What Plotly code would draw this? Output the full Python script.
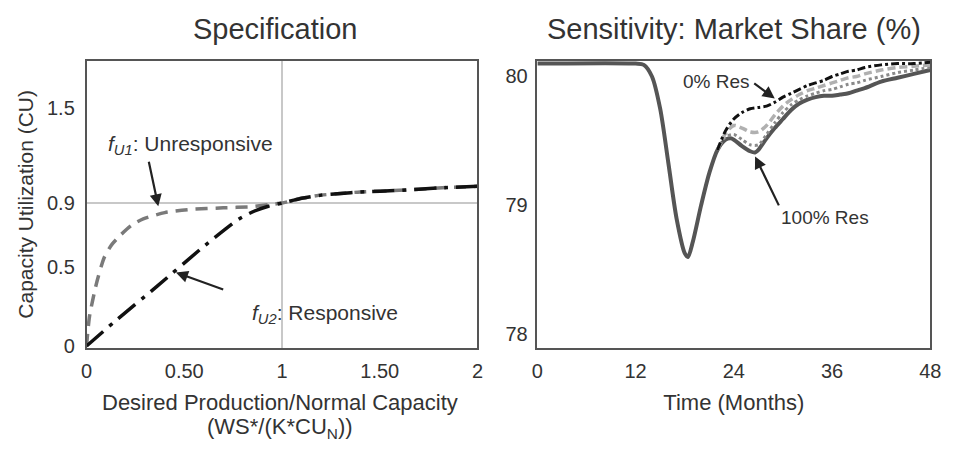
import plotly.graph_objects as go

# ---------------- Left panel data (Specification) ----------------
x_u1 = [0, 0.015, 0.05, 0.09, 0.13, 0.175, 0.23, 0.29, 0.4, 0.53, 0.7, 0.84, 0.93, 1.0, 1.05, 1.1, 1.2, 1.3, 1.4, 1.6, 1.8, 2.0]
y_u1 = [0, 0.185, 0.39, 0.556, 0.64, 0.70, 0.76, 0.80, 0.84, 0.86, 0.87, 0.877, 0.89, 0.90, 0.915, 0.93, 0.95, 0.96, 0.97, 0.98, 0.995, 1.006]

x_u2 = [0, 0.14, 0.36, 0.59, 0.78, 0.86, 0.93, 1.0, 1.05, 1.1, 1.2, 1.3, 1.4, 1.6, 1.8, 2.0]
y_u2 = [0, 0.150, 0.375, 0.617, 0.80, 0.85, 0.88, 0.90, 0.915, 0.93, 0.95, 0.96, 0.97, 0.98, 0.995, 1.006]

left_xticks = [0, 0.5, 1, 1.5, 2]
left_xticklabels = ["0", "0.50", "1", "1.50", "2"]
left_yticks = [0, 0.5, 0.9, 1.5]
left_yticklabels = ["0", "0.5", "0.9", "1.5"]

# ---------------- Right panel data (Market share sensitivity) ----------------
t_main = [0, 12, 13, 14, 15, 16, 17, 18, 18.4, 19, 20, 21, 22, 23, 23.6, 24, 25, 26, 26.6, 27, 28, 29, 30, 31, 32,
          33, 34, 35, 36, 37, 38, 39, 40, 42, 44, 46, 48]
share_100 = [80.1, 80.1, 80.09, 80.0, 79.75, 79.33, 78.90, 78.63, 78.60, 78.72, 79.0, 79.25, 79.43, 79.51, 79.52,
             79.51, 79.46, 79.42, 79.41, 79.43, 79.52, 79.60, 79.67, 79.74, 79.79,
             79.82, 79.84, 79.85, 79.85, 79.86, 79.87, 79.89, 79.91, 79.96, 79.99, 80.02, 80.05]

t_var = [22, 23, 24, 25, 26, 27, 28, 29, 30, 31, 32, 33, 34, 35, 36, 37, 38, 39, 40, 42, 44, 46, 48]
share_0 = [79.43, 79.58, 79.67, 79.72, 79.75, 79.76, 79.77, 79.80, 79.84, 79.87, 79.90, 79.93, 79.95, 79.97,
           80.0, 80.02, 80.04, 80.05, 80.07, 80.09, 80.10, 80.10, 80.11]
share_33 = [79.43, 79.56, 79.62, 79.60, 79.57, 79.57, 79.62, 79.70, 79.77, 79.82, 79.86, 79.89, 79.91, 79.93,
            79.95, 79.97, 79.99, 80.0, 80.02, 80.05, 80.07, 80.08, 80.09]
share_67 = [79.43, 79.53, 79.55, 79.51, 79.47, 79.47, 79.55, 79.64, 79.72, 79.78, 79.82, 79.85, 79.87, 79.89,
            79.90, 79.92, 79.94, 79.95, 79.97, 80.0, 80.03, 80.05, 80.07]

right_xticks = [0, 12, 24, 36, 48]
right_yticks = [78, 79, 80]

FONT = "Liberation Sans, Arial, sans-serif"
TXT = "#333333"
W, H = 956, 451

fig = go.Figure()

# left panel curves
fig.add_trace(go.Scatter(x=x_u1, y=y_u1, mode="lines", xaxis="x", yaxis="y",
                         line=dict(color="#7a7a7a", width=3.5, dash="12px,8px", shape="spline", smoothing=0.6),
                         showlegend=False, hoverinfo="skip"))
fig.add_trace(go.Scatter(x=x_u2, y=y_u2, mode="lines", xaxis="x", yaxis="y",
                         line=dict(color="#111111", width=3.5, dash="22px,8px,4px,8px", shape="spline", smoothing=0.6),
                         showlegend=False, hoverinfo="skip"))

# right panel curves
fig.add_trace(go.Scatter(x=t_main, y=share_100, mode="lines", xaxis="x2", yaxis="y2",
                         line=dict(color="#555555", width=4, shape="spline", smoothing=0.8),
                         showlegend=False, hoverinfo="skip"))
fig.add_trace(go.Scatter(x=t_var, y=share_67, mode="lines", xaxis="x2", yaxis="y2",
                         line=dict(color="#8a8a8a", width=3, dash="dot", shape="spline", smoothing=0.8),
                         showlegend=False, hoverinfo="skip"))
fig.add_trace(go.Scatter(x=t_var, y=share_33, mode="lines", xaxis="x2", yaxis="y2",
                         line=dict(color="#b0b0b0", width=3.5, dash="8px,4px", shape="spline", smoothing=0.8),
                         showlegend=False, hoverinfo="skip"))
fig.add_trace(go.Scatter(x=t_var, y=share_0, mode="lines", xaxis="x2", yaxis="y2",
                         line=dict(color="#111111", width=3, dash="8px,3px,3px,3px", shape="spline", smoothing=0.8),
                         showlegend=False, hoverinfo="skip"))

# reference lines on left panel
fig.add_shape(type="line", xref="x", yref="y domain", x0=1, x1=1, y0=0, y1=1,
              line=dict(color="#c8c8c8", width=2), layer="below")
fig.add_shape(type="line", xref="x domain", yref="y", x0=0, x1=1, y0=0.9, y1=0.9,
              line=dict(color="#c8c8c8", width=2), layer="below")

ax_common = dict(showgrid=False, zeroline=False, showline=True, mirror=True,
                 linecolor="#555555", linewidth=1.5, ticks="",
                 tickfont=dict(family=FONT, size=20, color=TXT))

d_top = 1 - 62 / H
d_bot = 1 - 355 / H

LBL = dict(size=21, color=TXT, family=FONT)

fig.update_layout(
    width=W, height=H,
    margin=dict(l=0, r=0, t=0, b=0),
    paper_bgcolor="white", plot_bgcolor="white",
    xaxis=dict(domain=[82 / W, 480 / W], range=[0, 2], tickvals=left_xticks, ticktext=left_xticklabels,
               anchor="y", ticklabelstandoff=4, **ax_common),
    yaxis=dict(domain=[d_bot, d_top], range=[-0.012, 1.796], tickvals=left_yticks, ticktext=left_yticklabels,
               anchor="x", ticklabelstandoff=6,
               title=dict(text="Capacity Utilization (CU)", font=dict(size=21, color=TXT, family=FONT), standoff=8),
               **ax_common),
    xaxis2=dict(domain=[541 / W, 941 / W], range=[0, 48], tickvals=right_xticks,
                anchor="y2", ticklabelstandoff=4,
                title=dict(text="Time (Months)", font=dict(size=22, color=TXT, family=FONT), standoff=14),
                **ax_common),
    yaxis2=dict(domain=[d_bot, d_top], range=[77.894, 80.122], tickvals=right_yticks,
                anchor="x2", ticklabelstandoff=4, **ax_common),
    font=dict(family=FONT, color=TXT),
)

ann = []
# panel titles
ann.append(dict(text="Specification", x=274 / W, y=1 - 30 / H, xref="paper", yref="paper",
                showarrow=False, font=dict(size=29, color=TXT, family=FONT), xanchor="center", yanchor="middle"))
ann.append(dict(text="Sensitivity: Market Share (%)", x=741 / W, y=1 - 30 / H, xref="paper", yref="paper",
                showarrow=False, font=dict(size=29, color=TXT, family=FONT), xanchor="center", yanchor="middle"))
# left x-axis title (two lines)
ann.append(dict(text="Desired Production/Normal Capacity", x=279 / W, y=1 - 411 / H, xref="paper", yref="paper",
                showarrow=False, font=dict(size=22, color=TXT, family=FONT), xanchor="center", yanchor="middle"))
ann.append(dict(text="(WS*/(K*CU<sub>N</sub>))", x=279 / W, y=1 - 437 / H, xref="paper", yref="paper",
                showarrow=False, font=dict(size=22, color=TXT, family=FONT), xanchor="center", yanchor="middle"))

# curve labels with arrows (left)
ann.append(dict(text="<i>f</i><sub><i>U1</i></sub>: Unresponsive", x=0.53, y=1.265, xref="x", yref="y",
                showarrow=False, font=LBL, xanchor="center", yanchor="middle"))
ann.append(dict(text="", x=0.367, y=0.88, ax=0.317, ay=1.17, xref="x", yref="y", axref="x", ayref="y",
                showarrow=True, arrowhead=2, arrowsize=1.1, arrowwidth=2.2, arrowcolor="#222222"))
ann.append(dict(text="<i>f</i><sub><i>U2</i></sub>: Responsive", x=0.457, y=0.463, ax=0.834, ay=0.296,
                xref="x", yref="y", axref="x", ayref="y", xanchor="left", yanchor="top",
                showarrow=True, arrowhead=2, arrowsize=1.1, arrowwidth=2.2, arrowcolor="#222222",
                startstandoff=28, font=LBL))

# curve labels with arrows (right)
ann.append(dict(text="0% Res", x=29.0, y=79.83, ax=26.2, ay=79.96, xref="x2", yref="y2", axref="x2", ayref="y2",
                xanchor="right", yanchor="middle",
                showarrow=True, arrowhead=2, arrowsize=1.1, arrowwidth=2.2, arrowcolor="#222222",
                startstandoff=3, font=dict(size=19, color=TXT, family=FONT)))
ann.append(dict(text="100% Res", x=26.6, y=79.38, ax=29.5, ay=79.0, xref="x2", yref="y2", axref="x2", ayref="y2",
                xanchor="left", yanchor="top",
                showarrow=True, arrowhead=2, arrowsize=1.1, arrowwidth=2.2, arrowcolor="#222222",
                font=dict(size=19, color=TXT, family=FONT)))

fig.update_layout(annotations=ann)

fig.write_html("out.html")
